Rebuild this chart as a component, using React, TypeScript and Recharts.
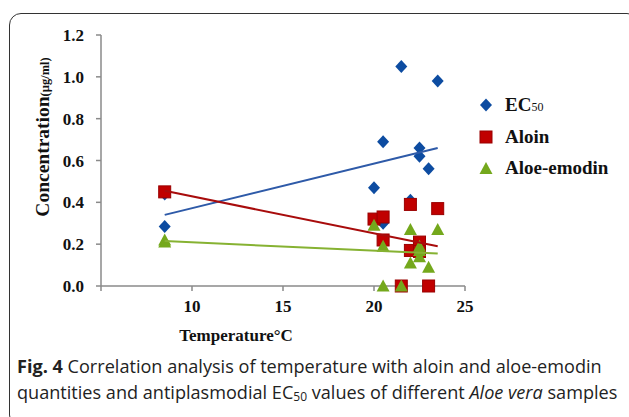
import React from "react";
import { ScatterChart, Scatter, XAxis, YAxis } from "recharts";

// temperature (°C) of each sample and the measured values
const ecTemp = [8.5, 8.5, 20, 20.5, 20.5, 21.5, 22, 22.5, 22.5, 23, 23.5];
const ecVal = [0.285, 0.44, 0.47, 0.69, 0.3, 1.05, 0.41, 0.66, 0.62, 0.56, 0.98];

const aloinTemp = [8.5, 20, 20.5, 20.5, 21.5, 22, 22, 22.5, 22.5, 23, 23.5];
const aloinVal = [0.45, 0.32, 0.33, 0.22, 0, 0.39, 0.17, 0.21, 0.165, 0, 0.37];

const emodinTemp = [8.5, 8.5, 20, 20.5, 20.5, 21.5, 22, 22, 22.5, 22.5, 22.5, 23, 23.5];
const emodinVal = [0.22, 0.21, 0.29, 0.19, 0, 0, 0.27, 0.11, 0.19, 0.17, 0.14, 0.09, 0.27];

// linear trend lines, end points
const trendTemp = [8.5, 23.5];
const ecTrend = [0.34, 0.66];
const aloinTrend = [0.455, 0.19];
const emodinTrend = [0.215, 0.155];

const xTicks = [5, 10, 15, 20, 25];
const yTicks = [0, 0.2, 0.4, 0.6, 0.8, 1.0, 1.2];

const BLUE = "#0d4ca1";
const RED = "#c00000";
const GREEN = "#74a81c";

const pts = (t: number[], v: number[]) => t.map((x, i) => ({ t: x, c: v[i] }));

const serif = "'Liberation Serif', 'Times New Roman', serif";
const tickStyle = { fontFamily: serif, fontWeight: 700, fontSize: 17, fill: "#111" };

const Diamond = (p: any) => (
  <polygon
    points={`${p.cx},${p.cy - 6.5} ${p.cx + 6},${p.cy} ${p.cx},${p.cy + 6.5} ${p.cx - 6},${p.cy}`}
    fill={BLUE}
  />
);
const Square = (p: any) => (
  <rect x={p.cx - 6} y={p.cy - 6} width={12} height={12} fill={RED} stroke="#9a0000" strokeWidth={1} />
);
const Triangle = (p: any) => (
  <polygon
    points={`${p.cx},${p.cy - 6.5} ${p.cx + 6.5},${p.cy + 5.5} ${p.cx - 6.5},${p.cy + 5.5}`}
    fill={GREEN}
  />
);
const NoDot = () => <g />;

const legendItems = [
  { label: "EC", sub: "50", shape: "diamond" },
  { label: "Aloin", sub: "", shape: "square" },
  { label: "Aloe-emodin", sub: "", shape: "triangle" },
];

const LegendIcon = ({ shape }: { shape: string }) => (
  <svg width={14} height={14} style={{ display: "block" }}>
    {shape === "diamond" && <polygon points="7,0.5 13,7 7,13.5 1,7" fill={BLUE} />}
    {shape === "square" && <rect x={1} y={1} width={12} height={12} fill={RED} stroke="#9a0000" />}
    {shape === "triangle" && <polygon points="7,1 13.5,13 0.5,13" fill={GREEN} />}
  </svg>
);

export default function App() {
  return (
    <div style={{ position: "absolute", left: 0, top: 0, width: 629, height: 417, background: "#fff", overflow: "hidden" }}>
      <div
        style={{
          position: "absolute",
          left: 9,
          top: 13,
          width: 628,
          height: 412,
          border: "1.5px solid #333",
          borderRadius: 12,
        }}
      />
      <div style={{ position: "absolute", left: 0, top: 0 }}>
        <ScatterChart width={629} height={350} margin={{ top: 35, right: 164, bottom: 0, left: 0 }}>
          <XAxis
            type="number"
            dataKey="t"
            domain={[5, 25]}
            ticks={xTicks}
            tickFormatter={(v: number) => (v === 5 ? "" : String(v))}
            height={64}
            tickSize={5}
            tickMargin={9}
            stroke="#8a8a8a"
            strokeWidth={1.5}
            tick={tickStyle}
          />
          <YAxis
            type="number"
            dataKey="c"
            domain={[0, 1.2]}
            ticks={yTicks}
            tickFormatter={(v: number) => v.toFixed(1)}
            width={101}
            tickSize={5}
            tickMargin={12}
            stroke="#8a8a8a"
            strokeWidth={1.5}
            tick={tickStyle}
          />
          <Scatter data={pts(ecTemp, ecVal)} shape={Diamond} isAnimationActive={false} />
          <Scatter data={pts(aloinTemp, aloinVal)} shape={Square} isAnimationActive={false} />
          <Scatter data={pts(emodinTemp, emodinVal)} shape={Triangle} isAnimationActive={false} />
          <Scatter data={pts(trendTemp, ecTrend)} shape={NoDot} line={{ stroke: "#2e5aa8", strokeWidth: 2 }} isAnimationActive={false} />
          <Scatter data={pts(trendTemp, aloinTrend)} shape={NoDot} line={{ stroke: "#a80c0c", strokeWidth: 2 }} isAnimationActive={false} />
          <Scatter data={pts(trendTemp, emodinTrend)} shape={NoDot} line={{ stroke: "#86b232", strokeWidth: 2 }} isAnimationActive={false} />
        </ScatterChart>
      </div>

      {/* y axis title */}
      <div
        style={{
          position: "absolute",
          left: 43,
          top: 137,
          transform: "translate(-50%, -50%) rotate(-90deg)",
          whiteSpace: "nowrap",
          fontFamily: serif,
          fontWeight: 700,
          fontSize: 19.5,
          color: "#111",
        }}
      >
        Concentration<span style={{ fontSize: 12.5 }}>(µg/ml)</span>
      </div>

      {/* x axis title */}
      <div
        style={{
          position: "absolute",
          left: 236,
          top: 336,
          transform: "translate(-50%, -50%)",
          whiteSpace: "nowrap",
          fontFamily: serif,
          fontWeight: 700,
          fontSize: 17,
          color: "#111",
        }}
      >
        Temperature°C
      </div>

      {/* legend */}
      {legendItems.map((it, i) => (
        <div
          key={it.label}
          style={{
            position: "absolute",
            left: 479,
            top: 105 + i * 31.5,
            transform: "translateY(-50%)",
            display: "flex",
            alignItems: "center",
            whiteSpace: "nowrap",
            fontFamily: serif,
            fontWeight: 700,
            fontSize: 19,
            color: "#111",
          }}
        >
          <LegendIcon shape={it.shape} />
          <span style={{ marginLeft: 12 }}>
            {it.label}
            {it.sub && <span style={{ fontSize: 12, fontWeight: 400 }}>{it.sub}</span>}
          </span>
        </div>
      ))}

      {/* caption */}
      <div
        style={{
          position: "absolute",
          left: 17,
          top: 353,
          whiteSpace: "nowrap",
          fontFamily: "'Open Sans', 'Noto Sans', sans-serif",
          fontSize: 18.1,
          lineHeight: "26px",
          color: "#222",
        }}
      >
        <div>
          <b>Fig. 4</b> Correlation analysis of temperature with aloin and aloe-emodin
        </div>
        <div>
          quantities and antiplasmodial EC<sub style={{ fontSize: 12, verticalAlign: "-2px" }}>50</sub> values of
          different <i>Aloe vera</i> samples
        </div>
      </div>
    </div>
  );
}
